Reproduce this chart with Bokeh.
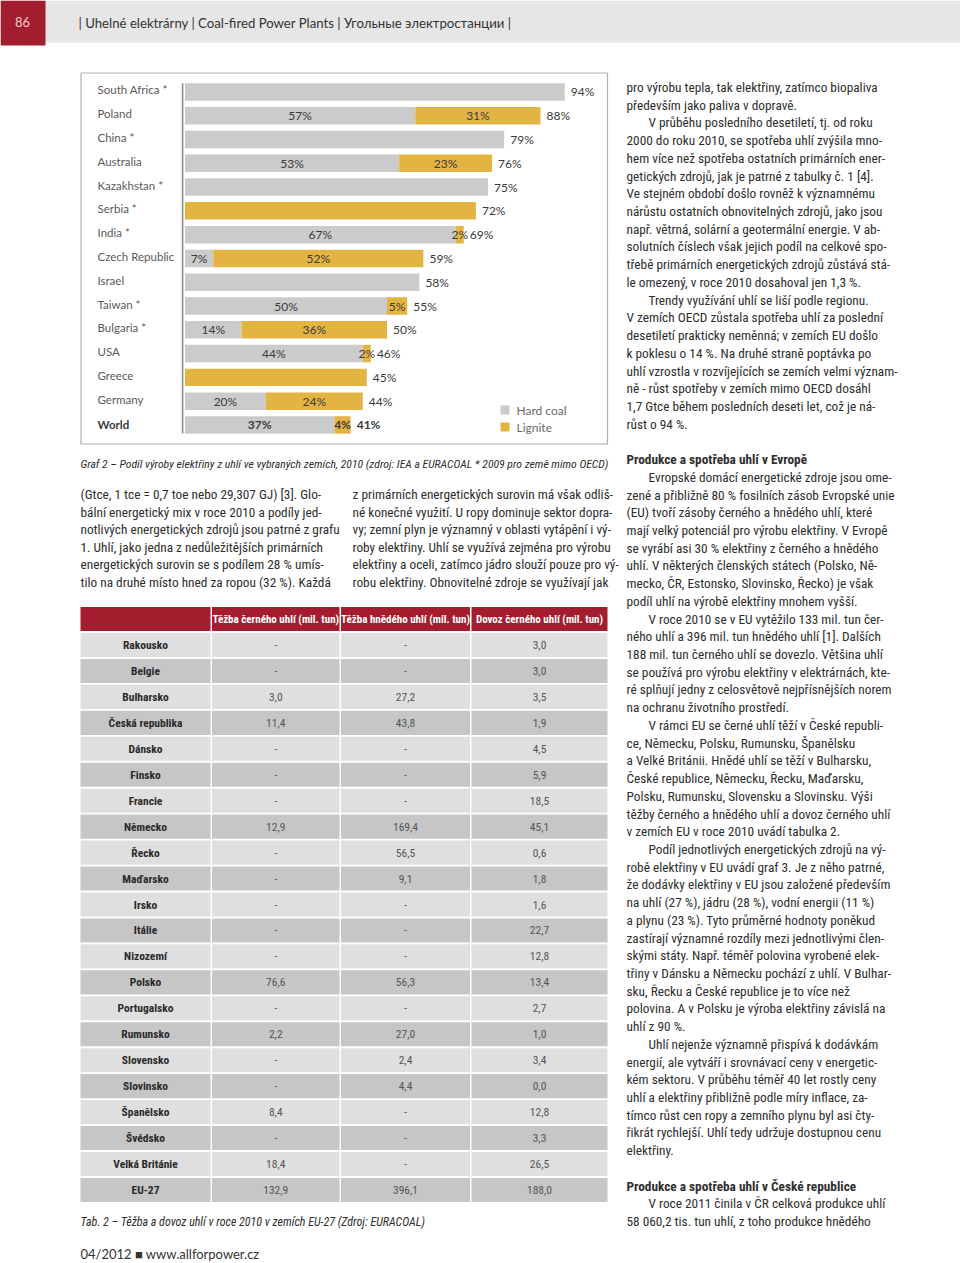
from bokeh.plotting import figure
from bokeh.models import Range1d, ColumnDataSource
from bokeh.core.properties import value
from bokeh.embed import file_html
from bokeh.resources import INLINE

# ---------------- data ----------------
countries = ["South Africa *", "Poland", "China *", "Australia", "Kazakhstan *", "Serbia *",
             "India *", "Czech Republic", "Israel", "Taiwan *", "Bulgaria *", "USA",
             "Greece", "Germany", "World"]
hard_coal = [94, 57, 79, 53, 75, 0, 67, 7, 58, 50, 14, 44, 0, 20, 37]
lignite = [0, 31, 0, 23, 0, 72, 2, 52, 0, 5, 36, 2, 45, 24, 4]
legend_labels = ["Hard coal", "Lignite"]

eu_countries = ["Rakousko", "Belgie", "Bulharsko", "Česká republika", "Dánsko", "Finsko",
                "Francie", "Německo", "Řecko", "Maďarsko", "Irsko", "Itálie", "Nizozemí",
                "Polsko", "Portugalsko", "Rumunsko", "Slovensko", "Slovinsko", "Španělsko",
                "Švédsko", "Velká Británie", "EU-27"]
hard_mined = [None, None, 3.0, 11.4, None, None, None, 12.9, None, None, None, None, None,
              76.6, None, 2.2, None, None, 8.4, None, 18.4, 132.9]
lignite_mined = [None, None, 27.2, 43.8, None, None, None, 169.4, 56.5, 9.1, None, None, None,
                 56.3, None, 27.0, 2.4, 4.4, None, None, None, 396.1]
hard_import = [3.0, 3.0, 3.5, 1.9, 4.5, 5.9, 18.5, 45.1, 0.6, 1.8, 1.6, 22.7, 12.8,
               13.4, 2.7, 1.0, 3.4, 0.0, 12.8, 3.3, 26.5, 188.0]
table_headers = ["", "Těžba černého uhlí (mil. tun)", "Těžba hnědého uhlí (mil. tun)",
                 "Dovoz černého uhlí (mil. tun)"]

header_text = "| Uhelné elektrárny | Coal-fired Power Plants | Угольные электростанции |"
page_number = "86"
chart_caption = ("Graf 2 – Podíl výroby elektřiny z uhlí ve vybraných zemích, 2010 "
                 "(zdroj: IEA a EURACOAL * 2009 pro země mimo OECD)")
table_caption = "Tab. 2 – Těžba a dovoz uhlí v roce 2010 v zemích EU-27 (Zdroj: EURACOAL)"
footer_text = "04/2012 ■ www.allforpower.cz"

left_col = [
    "(Gtce, 1 tce = 0,7 toe nebo 29,307 GJ) [3]. Glo-",
    "bální energetický mix v roce 2010 a podíly jed-",
    "notlivých energetických zdrojů jsou patrné z grafu",
    "1. Uhlí, jako jedna z nedůležitějších primárních",
    "energetických surovin se s podílem 28 % umís-",
    "tilo na druhé místo hned za ropou (32 %). Každá",
]
mid_col = [
    "z primárních energetických surovin má však odliš-",
    "né konečné využití. U ropy dominuje sektor dopra-",
    "vy; zemní plyn je významný v oblasti vytápění i vý-",
    "roby elektřiny. Uhlí se využívá zejména pro výrobu",
    "elektřiny a oceli, zatímco jádro slouží pouze pro vý-",
    "robu elektřiny. Obnovitelné zdroje se využívají jak",
]
# (kind, text): n normal, i indented first line, h heading, b blank
right_col = [
    ("n", "pro výrobu tepla, tak elektřiny, zatímco biopaliva"),
    ("n", "především jako paliva v dopravě."),
    ("i", "V průběhu posledního desetiletí, tj. od roku"),
    ("n", "2000 do roku 2010, se spotřeba uhlí zvýšila mno-"),
    ("n", "hem více než spotřeba ostatních primárních ener-"),
    ("n", "getických zdrojů, jak je patrné z tabulky č. 1 [4]."),
    ("n", "Ve stejném období došlo rovněž k významnému"),
    ("n", "nárůstu ostatních obnovitelných zdrojů, jako jsou"),
    ("n", "např. větrná, solární a geotermální energie. V ab-"),
    ("n", "solutních číslech však jejich podíl na celkové spo-"),
    ("n", "třebě primárních energetických zdrojů zůstává stá-"),
    ("n", "le omezený, v roce 2010 dosahoval jen 1,3 %."),
    ("i", "Trendy využívání uhlí se liší podle regionu."),
    ("n", "V zemích OECD zůstala spotřeba uhlí za poslední"),
    ("n", "desetiletí prakticky neměnná; v zemích EU došlo"),
    ("n", "k poklesu o 14 %. Na druhé straně poptávka po"),
    ("n", "uhlí vzrostla v rozvíjejících se zemích velmi význam-"),
    ("n", "ně - růst spotřeby v zemích mimo OECD dosáhl"),
    ("n", "1,7 Gtce během posledních deseti let, což je ná-"),
    ("n", "růst o 94 %."),
    ("b", ""),
    ("h", "Produkce a spotřeba uhlí v Evropě"),
    ("i", "Evropské domácí energetické zdroje jsou ome-"),
    ("n", "zené a přibližně 80 % fosilních zásob Evropské unie"),
    ("n", "(EU) tvoří zásoby černého a hnědého uhlí, které"),
    ("n", "mají velký potenciál pro výrobu elektřiny. V Evropě"),
    ("n", "se vyrábí asi 30 % elektřiny z černého a hnědého"),
    ("n", "uhlí. V některých členských státech (Polsko, Ně-"),
    ("n", "mecko, ČR, Estonsko, Slovinsko, Řecko) je však"),
    ("n", "podíl uhlí na výrobě elektřiny mnohem vyšší."),
    ("i", "V roce 2010 se v EU vytěžilo 133 mil. tun čer-"),
    ("n", "ného uhlí a 396 mil. tun hnědého uhlí [1]. Dalších"),
    ("n", "188 mil. tun černého uhlí se dovezlo. Většina uhlí"),
    ("n", "se používá pro výrobu elektřiny v elektrárnách, kte-"),
    ("n", "ré splňují jedny z celosvětově nejpřísnějších norem"),
    ("n", "na ochranu životního prostředí."),
    ("i", "V rámci EU se černé uhlí těží v České republi-"),
    ("n", "ce, Německu, Polsku, Rumunsku, Španělsku"),
    ("n", "a Velké Británii. Hnědé uhlí se těží v Bulharsku,"),
    ("n", "České republice, Německu, Řecku, Maďarsku,"),
    ("n", "Polsku, Rumunsku, Slovensku a Slovinsku. Výši"),
    ("n", "těžby černého a hnědého uhlí a dovoz černého uhlí"),
    ("n", "v zemích EU v roce 2010 uvádí tabulka 2."),
    ("i", "Podíl jednotlivých energetických zdrojů na vý-"),
    ("n", "robě elektřiny v EU uvádí graf 3. Je z něho patrné,"),
    ("n", "že dodávky elektřiny v EU jsou založené především"),
    ("n", "na uhlí (27 %), jádru (28 %), vodní energii (11 %)"),
    ("n", "a plynu (23 %). Tyto průměrné hodnoty poněkud"),
    ("n", "zastírají významné rozdíly mezi jednotlivými člen-"),
    ("n", "skými státy. Např. téměř polovina vyrobené elek-"),
    ("n", "třiny v Dánsku a Německu pochází z uhlí. V Bulhar-"),
    ("n", "sku, Řecku a České republice je to více než"),
    ("n", "polovina. A v Polsku je výroba elektřiny závislá na"),
    ("n", "uhlí z 90 %."),
    ("i", "Uhlí nejenže významně přispívá k dodávkám"),
    ("n", "energií, ale vytváří i srovnávací ceny v energetic-"),
    ("n", "kém sektoru. V průběhu téměř 40 let rostly ceny"),
    ("n", "uhlí a elektřiny přibližně podle míry inflace, za-"),
    ("n", "tímco růst cen ropy a zemního plynu byl asi čty-"),
    ("n", "řikrát rychlejší. Uhlí tedy udržuje dostupnou cenu"),
    ("n", "elektřiny."),
    ("b", ""),
    ("h", "Produkce a spotřeba uhlí v České republice"),
    ("i", "V roce 2011 činila v ČR celková produkce uhlí"),
    ("n", "58 060,2 tis. tun uhlí, z toho produkce hnědého"),
]

# ---------------- style ----------------
GRAY = "#cbcbcb"
GOLD = "#e4b443"
RED = "#a31d2e"
TXT = "#2e2e2e"
COND = value("Roboto Condensed, Liberation Sans Narrow, Arial Narrow, DejaVu Sans Condensed, Roboto")
SANS = value("Lato")
CHART = value("Lato")

W, H = 960, 1263
p = figure(width=W, height=H, x_range=Range1d(0, W), y_range=Range1d(H, 0),
           output_backend="svg", toolbar_location=None, min_border=0,
           x_axis_location=None, y_axis_location=None)
p.grid.visible = False
p.outline_line_color = None
p.background_fill_color = "white"
p.border_fill_color = "white"

# scales for chart (percent -> px) and rows
PX_PER_PCT = 4.04
X0 = 184.5
p.extra_x_ranges = {"pct": Range1d((0 - X0) / PX_PER_PCT, (W - X0) / PX_PER_PCT)}
ROW0, ROWP = 91.4, 23.79
T0, TP = 644.5, 25.95
p.extra_y_ranges = {
    "rows": Range1d((H - ROW0) / ROWP, (0 - ROW0) / ROWP),
    "trows": Range1d((H - T0) / TP, (0 - T0) / TP),
}

# ---------------- page header ----------------
p.quad(left=[0], right=[960], top=[0], bottom=[42], fill_color="#e6e6e6", line_color=None)
p.quad(left=[0], right=[45], top=[0], bottom=[45], fill_color=RED, line_color=None)
p.text(x=[22], y=[21], text=[page_number], text_font=SANS, text_font_size="13px",
       text_color="#f3c9cd", text_align="center", text_baseline="middle")
p.text(x=[78], y=[22], text=[header_text], text_font=SANS, text_font_size="13.2px",
       text_color="#333333", text_baseline="middle")

# ---------------- chart ----------------
p.quad(left=[80.5], right=[607], top=[72.5], bottom=[443.5], fill_color=None,
       line_color="#b0b0b0", line_width=1.2)

rows = list(range(len(countries)))
totals = [h + l for h, l in zip(hard_coal, lignite)]
src = ColumnDataSource(dict(y=rows, hard=hard_coal, tot=totals))
p.hbar(y="y", left=0, right="hard", height=0.735, fill_color=GRAY, line_color=None,
       source=src, x_range_name="pct", y_range_name="rows")
p.hbar(y="y", left="hard", right="tot", height=0.735, fill_color=GOLD, line_color=None,
       source=src, x_range_name="pct", y_range_name="rows")
p.segment(x0=[-0.6], x1=[-0.6], y0=[-0.36], y1=[14.36], line_color="#8c8c8c", line_width=1.6,
          x_range_name="pct", y_range_name="rows")

# country labels
normal_idx = [i for i, c in enumerate(countries) if c != "World"]
p.text(x=[97] * len(normal_idx), y=[i - 0.08 for i in normal_idx],
       text=[countries[i] for i in normal_idx], text_font=CHART, text_font_size="11.5px",
       text_color="#5a5a5a", text_baseline="middle", y_range_name="rows")
wi = countries.index("World")
p.text(x=[97], y=[wi - 0.04], text=[countries[wi]], text_font=CHART, text_font_size="11.5px",
       text_font_style="bold", text_color="#3a3a3a", text_baseline="middle", y_range_name="rows")

# segment labels and totals
for i in rows:
    h, l, t = hard_coal[i], lignite[i], totals[i]
    style = "bold" if countries[i] == "World" else "normal"
    xs, ts = [], []
    if h > 0 and l > 0:
        xs += [h / 2, h + l / 2]
        ts += [f"{h}%", f"{l}%"]
    if xs:
        p.text(x=xs, y=[i] * len(xs), text=ts, text_font=CHART, text_font_size="12px",
               text_font_style=style, text_color="#3a3a3a", text_align="center",
               text_baseline="middle", x_range_name="pct", y_range_name="rows")
    p.text(x=[t + 1.5], y=[i], text=[f"{t}%"], text_font=CHART, text_font_size="12px",
           text_font_style=style, text_color="#3a3a3a", text_baseline="middle",
           x_range_name="pct", y_range_name="rows")

# legend
p.quad(left=[500, 500], right=[509, 509], top=[405, 422], bottom=[414, 431],
       fill_color=[GRAY, GOLD], line_color=None)
p.text(x=[516, 516], y=[409.5, 426.5], text=legend_labels, text_font=CHART,
       text_font_size="12px", text_color="#6a6a6a", text_baseline="middle")

# caption
p.text(x=[80], y=[463], text=[chart_caption], text_font=COND, text_font_size="11.7px",
       text_font_style="italic", text_color=TXT, text_baseline="middle")

# ---------------- two body columns under chart ----------------
LP = 17.6
p.text(x=[80] * len(left_col), y=[494 + LP * k for k in range(len(left_col))], text=left_col,
       text_font=COND, text_font_size="13.3px", text_color=TXT, text_baseline="middle")
p.text(x=[352] * len(mid_col), y=[494 + LP * k for k in range(len(mid_col))], text=mid_col,
       text_font=COND, text_font_size="13.3px", text_color=TXT, text_baseline="middle")

# ---------------- right column ----------------
RP = 17.72
for kind in ("n", "i", "h"):
    idx = [k for k, (kd, _) in enumerate(right_col) if kd == kind]
    if not idx:
        continue
    xpos = 648 if kind == "i" else 626
    p.text(x=[xpos] * len(idx), y=[87 + RP * k for k in idx], text=[right_col[k][1] for k in idx],
           text_font=COND, text_font_size="13.3px", text_color=TXT, text_baseline="middle",
           text_font_style="bold" if kind == "h" else "normal")

# ---------------- table ----------------
col_centers = [145.0, 275.25, 405.0, 539.0]
col_widths = [130.0, 127.5, 129.0, 136.0]
n = len(eu_countries)
cx, cy, cw, cc = [], [], [], []
for i in range(-1, n):
    for c in range(4):
        cx.append(col_centers[c])
        cy.append(i)
        cw.append(col_widths[c])
        cc.append(RED if i < 0 else ("#dfdfdf" if i % 2 == 0 else "#c6c6c6"))
p.rect(x=cx, y=cy, width=cw, height=0.93, fill_color=cc, line_color=None, y_range_name="trows")

p.text(x=col_centers[1:], y=[-1] * 3, text=table_headers[1:], text_font=COND,
       text_font_size="11px", text_font_style="bold", text_color="white",
       text_align="center", text_baseline="middle", y_range_name="trows")
p.text(x=[col_centers[0]] * n, y=list(range(n)), text=eu_countries, text_font=COND,
       text_font_size="11.5px", text_font_style="bold", text_color="#2a2a2a",
       text_align="center", text_baseline="middle", y_range_name="trows")


def fmt(v):
    return "-" if v is None else f"{v:.1f}".replace(".", ",")


for c, series in zip([1, 2, 3], [hard_mined, lignite_mined, hard_import]):
    p.text(x=[col_centers[c]] * n, y=list(range(n)), text=[fmt(v) for v in series],
           text_font=COND, text_font_size="11.5px", text_color="#555555",
           text_align="center", text_baseline="middle", y_range_name="trows")

p.text(x=[80], y=[1221], text=[table_caption], text_font=COND, text_font_size="12px",
       text_font_style="italic", text_color=TXT, text_baseline="middle")

# footer
p.text(x=[80], y=[1253], text=[footer_text], text_font=SANS, text_font_size="13px",
       text_color="#333333", text_baseline="middle")

open("out.html", "w").write(file_html(p, INLINE))
